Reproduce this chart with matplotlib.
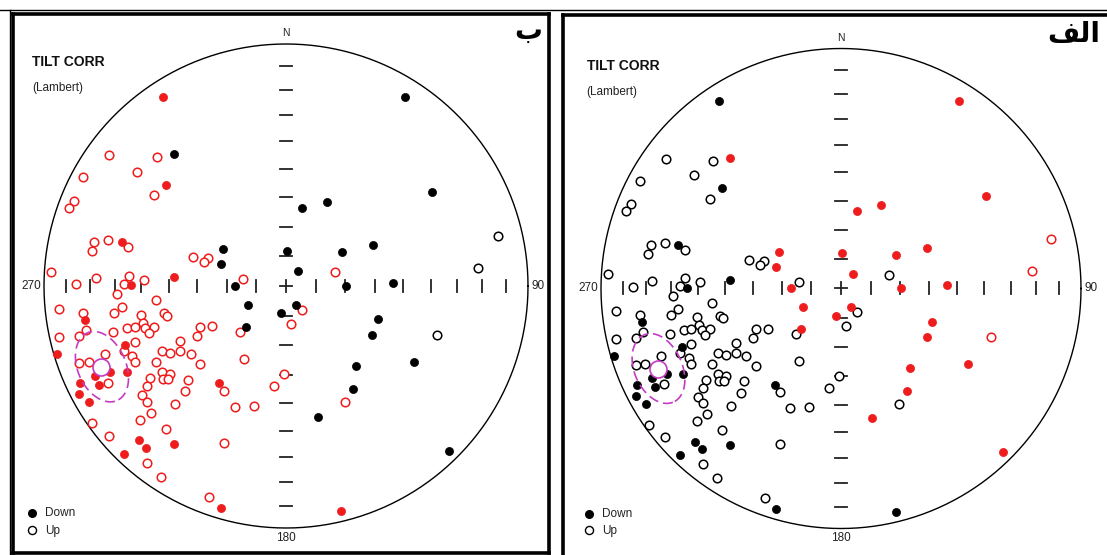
import numpy as np
import matplotlib
matplotlib.use("Agg")
import matplotlib.pyplot as plt
from matplotlib.lines import Line2D

W, H, DPI = 1107, 555, 100

# Directions plotted on a Lambert equal-area net (east, north; net radius = 1).
# down = 1 -> lower hemisphere (filled), down = 0 -> upper hemisphere (open)

# Population A (south-western group)
a_east = [-0.507, -0.731, -0.534, -0.614, -0.496, -0.839, -0.545, -0.876, -0.897, -0.792,
          -0.734, -0.679, -0.652, -0.803, -0.383, -0.321, -0.338, -0.971, -0.868, -0.786,
          -0.650, -0.669, -0.642, -0.587, -0.464, -0.176, -0.700, -0.536, -0.937, -0.678,
          -0.710, -0.838, -0.829, -0.600, -0.504, -0.493, -0.591, -0.656, -0.625, -0.581,
          -0.547, -0.566, -0.354, -0.306, -0.368, -0.189, -0.939, -0.855, -0.825, -0.714,
          -0.625, -0.437, -0.511, -0.479, -0.438, -0.394, -0.664, -0.671, -0.945, -0.748,
          -0.635, -0.623, -0.855, -0.815, -0.536, -0.354, -0.174, -0.727, -0.657, -0.789,
          -0.514, -0.478, -0.563, -0.510, -0.489, -0.850, -0.773, -0.737, -0.855, -0.813,
          -0.576, -0.406, -0.416, -0.594, -0.574, -0.459, -0.276, -0.255, -0.212, -0.133,
          -0.048, -0.007, -0.559, -0.602, -0.800, -0.496, -0.733, -0.609, -0.580, -0.464,
          -0.256, -0.669, -0.576, -0.518, -0.318, -0.270, 0.201, 0.065, 0.021, 0.243,
          0.229]
a_north = [0.780, 0.541, 0.532, 0.471, 0.419, 0.449, 0.374, 0.352, 0.321, 0.183,
           0.189, 0.182, 0.162, 0.145, 0.119, 0.116, 0.099, 0.059, 0.007, 0.032,
           0.043, 0.010, 0.003, 0.025, 0.036, 0.029, -0.033, -0.059, -0.095, -0.086,
           -0.110, -0.110, -0.139, -0.120, -0.113, -0.123, -0.152, -0.175, -0.169, -0.174,
           -0.169, -0.195, -0.169, -0.167, -0.208, -0.189, -0.210, -0.205, -0.182, -0.189,
           -0.233, -0.227, -0.267, -0.277, -0.270, -0.281, -0.244, -0.270, -0.282, -0.280,
           -0.290, -0.313, -0.317, -0.313, -0.313, -0.322, -0.303, -0.355, -0.355, -0.372,
           -0.357, -0.364, -0.381, -0.386, -0.384, -0.402, -0.409, -0.400, -0.448, -0.481,
           -0.413, -0.387, -0.434, -0.452, -0.479, -0.489, -0.402, -0.433, -0.500, -0.495,
           -0.413, -0.365, -0.524, -0.554, -0.567, -0.590, -0.619, -0.638, -0.669, -0.653,
           -0.650, -0.694, -0.733, -0.788, -0.871, -0.917, 0.058, -0.100, -0.156, -0.481,
           -0.930]
a_down = [1, 0, 0, 0, 1, 0, 0, 0, 0, 0,
          0, 1, 0, 0, 0, 0, 0, 0, 0, 0,
          0, 0, 1, 0, 1, 0, 0, 0, 0, 0,
          0, 0, 1, 0, 0, 0, 0, 0, 0, 0,
          0, 0, 0, 0, 0, 0, 0, 0, 0, 0,
          0, 0, 0, 0, 0, 0, 1, 0, 1, 0,
          0, 0, 0, 0, 0, 0, 0, 1, 1, 1,
          0, 0, 0, 0, 0, 1, 1, 0, 1, 1,
          0, 0, 0, 0, 0, 0, 1, 0, 0, 0,
          0, 0, 0, 0, 0, 0, 0, 1, 1, 1,
          0, 1, 0, 0, 0, 1, 0, 0, 0, 0,
          1]

# Population B (north-eastern / central group)
b_east = [-0.462, -0.259, -0.269, -0.210, -0.157, -0.167, -0.021, 0.490, 0.605, 0.065,
          0.168, 0.876, 0.003, 0.230, 0.360, 0.051, 0.795, 0.249, 0.441, 0.041,
          0.379, 0.357, 0.625, 0.289, 0.530, 0.277, 0.131, 0.675]
b_north = [0.545, 0.152, 0.090, 0.000, -0.079, -0.169, -0.113, 0.780, 0.387, 0.321,
           0.346, 0.207, 0.146, 0.140, 0.169, 0.062, 0.074, 0.000, 0.014, -0.079,
           -0.138, -0.201, -0.201, -0.331, -0.315, -0.427, -0.540, -0.682]
b_down = [1, 1, 1, 1, 1, 1, 1, 1, 1, 1,
          1, 0, 1, 1, 1, 1, 0, 1, 1, 1,
          1, 1, 0, 1, 1, 1, 1, 1]

# Fisher mean of population A with its 95% cone of confidence
mean_dec = 246.3
mean_inc = -17.7
alpha95 = 10.0

tick_inclinations = [10, 20, 30, 40, 50, 60, 70, 80]

RED = "#ee1c1c"
MAGENTA = "#c43cc4"


def lambert_xy(dec, inc):
    """Equal-area projection of declination/inclination (degrees)."""
    dec = np.radians(np.asarray(dec, float))
    r = np.sqrt(1.0 - np.abs(np.sin(np.radians(np.asarray(inc, float)))))
    return r * np.sin(dec), r * np.cos(dec)


def cone(dec, inc, a95, n=240):
    d, i, a = np.radians(dec), np.radians(inc), np.radians(a95)
    m = np.array([np.cos(i) * np.cos(d), np.cos(i) * np.sin(d), np.sin(i)])
    u = np.cross(m, [0.0, 0.0, 1.0])
    u /= np.linalg.norm(u)
    v = np.cross(m, u)
    phi = np.linspace(0, 2 * np.pi, n)
    p = (np.cos(a) * m[:, None]
         + np.sin(a) * (np.cos(phi) * u[:, None] + np.sin(phi) * v[:, None]))
    decs = np.degrees(np.arctan2(p[1], p[0]))
    incs = np.degrees(np.arcsin(np.clip(p[2], -1, 1)))
    return lambert_xy(decs, incs)


def net_axes(fig, box, centre, radius):
    x0, y0, x1, y1 = box
    cx, cy = centre
    ax = fig.add_axes([x0 / W, 1 - y1 / H, (x1 - x0) / W, (y1 - y0) / H])
    ax.set_xlim((x0 - cx) / radius, (x1 - cx) / radius)
    ax.set_ylim((cy - y1) / radius, (cy - y0) / radius)
    ax.set_xticks([])
    ax.set_yticks([])
    for s in ax.spines.values():
        s.set_linewidth(2.6)
        s.set_color("black")
    return ax


def draw_panel(ax, radius, col_a, col_b, letter, letter_xy, left):
    t = np.linspace(0, 2 * np.pi, 721)
    ax.plot(np.cos(t), np.sin(t), color="black", lw=1.0, zorder=2)

    half = 6.0 / radius
    for inc in tick_inclinations:
        r = np.sqrt(1 - np.sin(np.radians(inc)))
        for s in (1, -1):
            ax.plot([-half, half], [s * r, s * r], color="#222222", lw=1.3, zorder=2)
            ax.plot([s * r, s * r], [-half, half], color="#222222", lw=1.3, zorder=2)
    ax.plot([-half, half], [0, 0], color="#222222", lw=1.3, zorder=2)
    ax.plot([0, 0], [-half, half], color="#222222", lw=1.3, zorder=2)

    for xs, ys, dn, col in ((a_east, a_north, a_down, col_a),
                            (b_east, b_north, b_down, col_b)):
        xs, ys, dn = np.asarray(xs), np.asarray(ys), np.asarray(dn, bool)
        ax.scatter(xs[~dn], ys[~dn], s=38, facecolors="white", edgecolors=col,
                   linewidths=1.1, zorder=3)
        ax.scatter(xs[dn], ys[dn], s=34, color=col, edgecolors=col,
                   linewidths=0.5, zorder=4)

    cx_, cy_ = cone(mean_dec, mean_inc, alpha95)
    ax.plot(cx_, cy_, color=MAGENTA, lw=1.2, ls=(0, (6, 3)), zorder=5)
    mx, my = lambert_xy(mean_dec, mean_inc)
    ax.scatter([mx], [my], s=150, facecolors="white", edgecolors=MAGENTA,
               linewidths=1.2, zorder=6)

    lab = dict(fontsize=8.5, color="#222222", ha="center", va="center",
               family="Liberation Sans")
    ax.text(0, 1.045, "N", **dict(lab, fontsize=7.5))
    ax.text(0, -1.04, "180", **lab)
    ax.text(-1.052, 0, "270", **lab)
    ax.text(1.04, 0, "90", **lab)

    ax.text(left, 0.926, "TILT CORR", fontsize=10, fontweight="bold",
            family="Liberation Sans", ha="left", va="center", color="#111111")
    ax.text(left, 0.818, "(Lambert)", fontsize=8.5, family="Liberation Sans",
            ha="left", va="center", color="#222222")

    ax.scatter([-1.05], [-0.938], s=30, color="black", zorder=4)
    ax.scatter([-1.05], [-1.008], s=34, facecolors="white", edgecolors="black",
               linewidths=1.0, zorder=4)
    ax.text(-0.995, -0.94, "Down", fontsize=8.5, family="Liberation Sans",
            ha="left", va="center", color="#222222")
    ax.text(-0.995, -1.012, "Up", fontsize=8.5, family="Liberation Sans",
            ha="left", va="center", color="#222222")

    ax.text(letter_xy[0], letter_xy[1], letter, fontsize=20, fontweight="bold",
            family="DejaVu Sans", ha="right", va="center", color="black")


fig = plt.figure(figsize=(W / DPI, H / DPI), dpi=DPI)
fig.patch.set_facecolor("white")

# outer thin frame lines
fig.add_artist(Line2D([0, 1], [1 - 9.5 / H] * 2, color="black", lw=1.0))
fig.add_artist(Line2D([9.5 / W] * 2, [0, 1 - 9.5 / H], color="black", lw=1.0))

ax_b = net_axes(fig, (13, 14, 549, 553), (286, 286), 242)
draw_panel(ax_b, 242, RED, "black", "\u0628", (1.06, 1.055), -1.05)

ax_a = net_axes(fig, (563, 15, 1110, 560), (841, 288.5), 240)
# presentation forms in visual order: feh final, lam initial, alef isolated
draw_panel(ax_a, 240, "black", RED, "\uFED2\uFEDF\uFE8D", (1.08, 1.06), -1.06)

fig.savefig("out.png", dpi=DPI, facecolor="white")
